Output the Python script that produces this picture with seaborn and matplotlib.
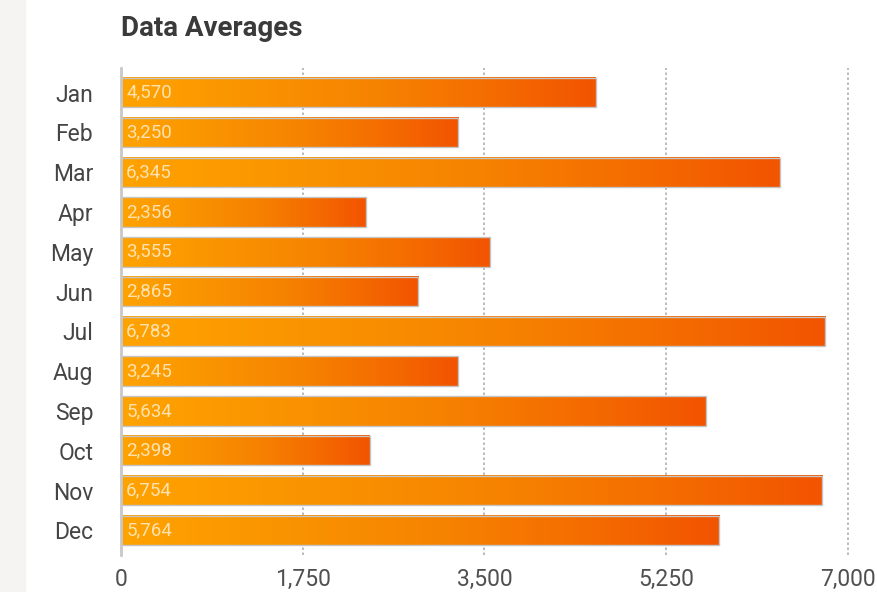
import seaborn as sns
import matplotlib.pyplot as plt
import pandas as pd
import numpy as np
from matplotlib.colors import LinearSegmentedColormap
from matplotlib.patches import Rectangle

months = ['Jan', 'Feb', 'Mar', 'Apr', 'May', 'Jun', 'Jul', 'Aug', 'Sep', 'Oct', 'Nov', 'Dec']
values = [4570, 3250, 6345, 2356, 3555, 2865, 6783, 3245, 5634, 2398, 6754, 5764]
xticks = [0, 1750, 3500, 5250, 7000]
xticklabels = ['0', '1,750', '3,500', '5,250', '7,000']

df = pd.DataFrame({'month': months, 'value': values})

sns.set_style('white')
plt.rcParams['font.family'] = ['Roboto', 'DejaVu Sans']

fig = plt.figure(figsize=(8.77, 5.92), dpi=100)
# light strip on the left edge
fig.patches.append(Rectangle((0, 0), 25 / 877, 1, transform=fig.transFigure,
                             color='#F5F4F2', zorder=0))

ax = fig.add_axes([121 / 877, 37 / 592, 732 / 877, 487 / 592])
sns.barplot(data=df, x='value', y='month', orient='h', width=0.74, ax=ax)

# orange -> red-orange, sampled off the reference bars
grad = LinearSegmentedColormap.from_list(
    'og', [(0, '#FFA300'), (0.25, '#FA9500'), (0.55, '#F68200'),
           (0.82, '#F46800'), (1, '#F25400')])
g = np.linspace(0, 1, 256).reshape(1, -1)
for p, v in zip(ax.patches, values):
    x0, y0 = p.get_x(), p.get_y()
    w, h = p.get_width(), p.get_height()
    ax.imshow(g, cmap=grad, aspect='auto', extent=[x0, x0 + w, y0 + h, y0],
              zorder=2, interpolation='bicubic')
    p.set_facecolor('none')
    p.set_edgecolor('#C4C4C4')
    p.set_linewidth(1.0)
    p.set_zorder(3)
    ax.text(x0 + 50, y0 + h / 2, f'{v:,}', color='#FFE2B0', fontsize=13.5,
            va='center', ha='left', zorder=4)

ax.set_xlim(0, 7050)
ax.set_ylim(11.62, -0.62)
ax.set_xticks(xticks)
ax.set_xticklabels(xticklabels)
ax.grid(axis='x', linestyle=(0, (1.5, 1.5)), color='#B0B0B0', linewidth=1.2, zorder=1)
ax.set_axisbelow(True)
for s in ['top', 'right', 'bottom']:
    ax.spines[s].set_visible(False)
ax.spines['left'].set_color('#C8C8C8')
ax.spines['left'].set_linewidth(2)
ax.spines['left'].set_zorder(5)
ax.tick_params(axis='y', length=0, pad=20, labelsize=16.5, labelcolor='#454545')
ax.tick_params(axis='x', length=0, pad=9, labelsize=16.5, labelcolor='#505050')
ax.set_xlabel('')
ax.set_ylabel('')

fig.text(121 / 877, 1 - 28 / 592, 'Data Averages', fontsize=20, fontweight='bold',
         color='#3A3A3A', ha='left', va='center')

fig.savefig('out.png', dpi=100)
